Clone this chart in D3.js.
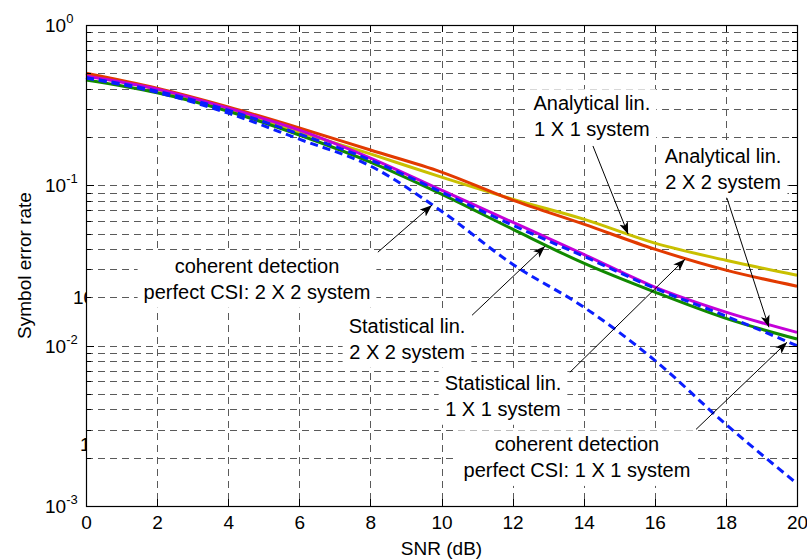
<!DOCTYPE html>
<html>
<head>
<meta charset="utf-8" />
<title>Symbol error rate vs SNR</title>
<script src="https://cdnjs.cloudflare.com/ajax/libs/d3/7.8.5/d3.min.js"></script>
<style>
  body { margin: 0; background: #fff; }
  svg text { font-family: "Liberation Sans", Arial, Helvetica, sans-serif; fill: #000; }
  .grid line { stroke: #5a5a5a; stroke-width: 1; stroke-dasharray: 7,5; shape-rendering: crispEdges; }
  .tick-axis path { display: none; }
  .tick-axis line { stroke: #000; shape-rendering: crispEdges; }
  .curve { fill: none; stroke-width: 3; stroke-linejoin: round; stroke-linecap: butt; }
  .arrow { stroke: #000; stroke-width: 1; fill: none; }
</style>
</head>
<body>
<svg width="807" height="559"></svg>
<script>
// SNR points (dB)
const snr = [0, 2, 4, 6, 8, 10, 12, 14, 16, 18, 20];

// symbol error rate
const analytical1x1 = [0.494, 0.396, 0.299, 0.215, 0.157, 0.1125, 0.082, 0.0615, 0.0436, 0.0341, 0.0275]; // yellow
const statistical1x1 = [0.50, 0.403, 0.308, 0.228, 0.166, 0.121, 0.0809, 0.0573, 0.040, 0.0296, 0.0235]; // red
const statistical2x2 = [0.454, 0.378, 0.29, 0.206, 0.1396, 0.0881, 0.0533, 0.0327, 0.0216, 0.0148, 0.011]; // green
const analytical2x2 = [0.481, 0.398, 0.303, 0.221, 0.148, 0.0933, 0.0589, 0.0371, 0.0232, 0.0162, 0.0121]; // magenta
const coherent1x1 = [0.470, 0.387, 0.294, 0.209, 0.144, 0.0907, 0.0564, 0.0361, 0.0228, 0.0153, 0.0100]; // blue dashed
const coherent2x2 = [0.467, 0.380, 0.282, 0.194, 0.132, 0.069, 0.0322, 0.0174, 0.0081, 0.00323, 0.00138]; // blue dashed

const xTicks = [0, 2, 4, 6, 8, 10, 12, 14, 16, 18, 20];
const yExponents = [0, -1, -2, -3];

// text boxes with arrows (positions in data units)
const notes = [
  { lines: ["Analytical lin.", "1 X 1 system"], at: [14.23, 0.294], from: [14.26, 0.176], to: [15.25, 0.0496] },
  { lines: ["Analytical lin.", "2 X 2 system"], at: [17.92, 0.1376], from: [18.03, 0.0832], to: [19.21, 0.01303] },
  { lines: ["coherent detection", "perfect CSI: 2 X 2 system"], at: [4.81, 0.0283], from: [8.21, 0.0383], to: [9.73, 0.0752] },
  { lines: ["Statistical lin.", "2 X 2 system"], at: [9.03, 0.01195], from: [10.86, 0.01548], to: [12.91, 0.0417] },
  { lines: ["Statistical lin.", "1 X 1 system"], at: [11.73, 0.00527], from: [13.61, 0.00682], to: [16.85, 0.0346] },
  { lines: ["coherent detection", "perfect CSI: 1 X 1 system"], at: [13.81, 0.00219], from: [17.16, 0.003006], to: [19.72, 0.0105] }
];

const svg = d3.select("svg");
const margin = { top: 25, right: 10, bottom: 53, left: 86 };
const width = +svg.attr("width") - margin.left - margin.right;
const height = +svg.attr("height") - margin.top - margin.bottom;

const x = d3.scaleLinear().domain([0, 20]).range([0, width]);
const y = d3.scaleLog().domain([1e-3, 1]).range([height, 0]);

const g = svg.append("g")
  .attr("transform", "translate(" + margin.left + "," + margin.top + ")");

// leftover label fragments peeking out at the left of the axes
g.append("text").attr("x", -13).attr("y", y(0.02) + 7).attr("font-size", 19).text("10");
g.append("text").attr("x", -6).attr("y", y(0.00245) + 7).attr("font-size", 19).text("10");

// plot background
g.append("rect").attr("width", width).attr("height", height).attr("fill", "#fff");

// y tick values: all log ticks
const yMajor = yExponents.map(e => Math.pow(10, e));
const yMinor = [];
yExponents.slice(1).forEach(e => {
  for (let k = 2; k <= 9; k++) yMinor.push(k * Math.pow(10, e));
});

// grid
const grid = g.append("g").attr("class", "grid");
grid.selectAll(".gx").data(xTicks.filter(d => d > 0 && d < 20)).join("line")
  .attr("x1", d => Math.round(x(d)) + 0.5).attr("x2", d => Math.round(x(d)) + 0.5)
  .attr("y1", 0).attr("y2", height);
grid.selectAll(".gy").data(yMinor.concat(yMajor).filter(d => d > 1e-3 && d < 1)).join("line")
  .attr("x1", 0).attr("x2", width)
  .attr("y1", d => Math.round(y(d)) + 0.5).attr("y2", d => Math.round(y(d)) + 0.5);

// white boxes behind annotation text
const noteG = g.append("g");
const lineGap = 25.5;
notes.forEach(n => {
  const box = noteG.append("rect").attr("fill", "#fff");
  const t = noteG.append("text")
    .attr("text-anchor", "middle")
    .attr("font-size", 20);
  n.lines.forEach((s, i) => {
    t.append("tspan").attr("x", x(n.at[0])).attr("y", y(n.at[1]) + i * lineGap).text(s);
  });
  const b = t.node().getBBox();
  box.attr("x", b.x - 6).attr("y", b.y - 3).attr("width", b.width + 12).attr("height", b.height + 8);
});

// curves
const series = [
  { values: analytical1x1, color: "#c9c000", dash: null },
  { values: statistical1x1, color: "#e23a00", dash: null },
  { values: statistical2x2, color: "#118a00", dash: null },
  { values: analytical2x2, color: "#c400d8", dash: null },
  { values: coherent1x1, color: "#0a1eff", dash: "8,5" },
  { values: coherent2x2, color: "#0a1eff", dash: "8,5" }
];

const line = d3.line()
  .x(d => x(d[0]))
  .y(d => y(d[1]))
  .curve(d3.curveMonotoneX);

const plot = g.append("g");
series.forEach(s => {
  plot.append("path")
    .datum(snr.map((v, i) => [v, s.values[i]]))
    .attr("class", "curve")
    .attr("stroke", s.color)
    .attr("stroke-dasharray", s.dash)
    .attr("d", line);
});

// axes box
g.append("rect").attr("x", 0.5).attr("y", 0.5).attr("width", width).attr("height", height)
  .attr("fill", "none").attr("stroke", "#000").attr("stroke-width", 1.2);

// ticks (inward)
g.append("g").attr("class", "tick-axis")
  .attr("transform", "translate(0," + height + ")")
  .call(d3.axisBottom(x).tickValues(xTicks).tickSizeInner(-7).tickSizeOuter(0).tickPadding(10).tickFormat(d3.format("d")))
  .call(a => a.selectAll("text").attr("font-size", 19).attr("font-family", null));
g.append("g").attr("class", "tick-axis")
  .call(d3.axisTop(x).tickValues(xTicks).tickSizeInner(-7).tickSizeOuter(0).tickFormat(""));
g.append("g").attr("class", "tick-axis")
  .call(d3.axisLeft(y).tickValues(yMajor).tickSizeInner(-8).tickSizeOuter(0).tickFormat(""));
g.append("g").attr("class", "tick-axis")
  .call(d3.axisLeft(y).tickValues(yMinor).tickSizeInner(-5).tickSizeOuter(0).tickFormat(""));
g.append("g").attr("class", "tick-axis")
  .attr("transform", "translate(" + width + ",0)")
  .call(d3.axisRight(y).tickValues(yMajor).tickSizeInner(-8).tickSizeOuter(0).tickFormat(""));
g.append("g").attr("class", "tick-axis")
  .attr("transform", "translate(" + width + ",0)")
  .call(d3.axisRight(y).tickValues(yMinor).tickSizeInner(-5).tickSizeOuter(0).tickFormat(""));

// y tick labels 10^e
yExponents.forEach(e => {
  const t = g.append("text")
    .attr("x", -41)
    .attr("y", y(Math.pow(10, e)) + 7)
    .attr("font-size", 19);
  t.append("tspan").text("10");
  t.append("tspan").attr("font-size", 13).attr("dy", -9).text(e);
});

// axis titles
g.append("text")
  .attr("x", width / 2)
  .attr("y", height + 49)
  .attr("text-anchor", "middle")
  .attr("font-size", 19)
  .text("SNR (dB)");
g.append("text")
  .attr("transform", "translate(-55," + height / 2 + ") rotate(-90)")
  .attr("text-anchor", "middle")
  .attr("font-size", 19)
  .text("Symbol error rate");

// arrows
svg.append("defs").append("marker")
  .attr("id", "head")
  .attr("markerUnits", "userSpaceOnUse")
  .attr("markerWidth", 13).attr("markerHeight", 10)
  .attr("refX", 12).attr("refY", 4.5)
  .attr("orient", "auto")
  .append("path")
  .attr("d", "M0,0 L12,4.5 L0,9 L3,4.5 Z")
  .attr("fill", "#000");

notes.forEach(n => {
  g.append("line")
    .attr("class", "arrow")
    .attr("x1", x(n.from[0])).attr("y1", y(n.from[1]))
    .attr("x2", x(n.to[0])).attr("y2", y(n.to[1]))
    .attr("marker-end", "url(#head)");
});
</script>
</body>
</html>
